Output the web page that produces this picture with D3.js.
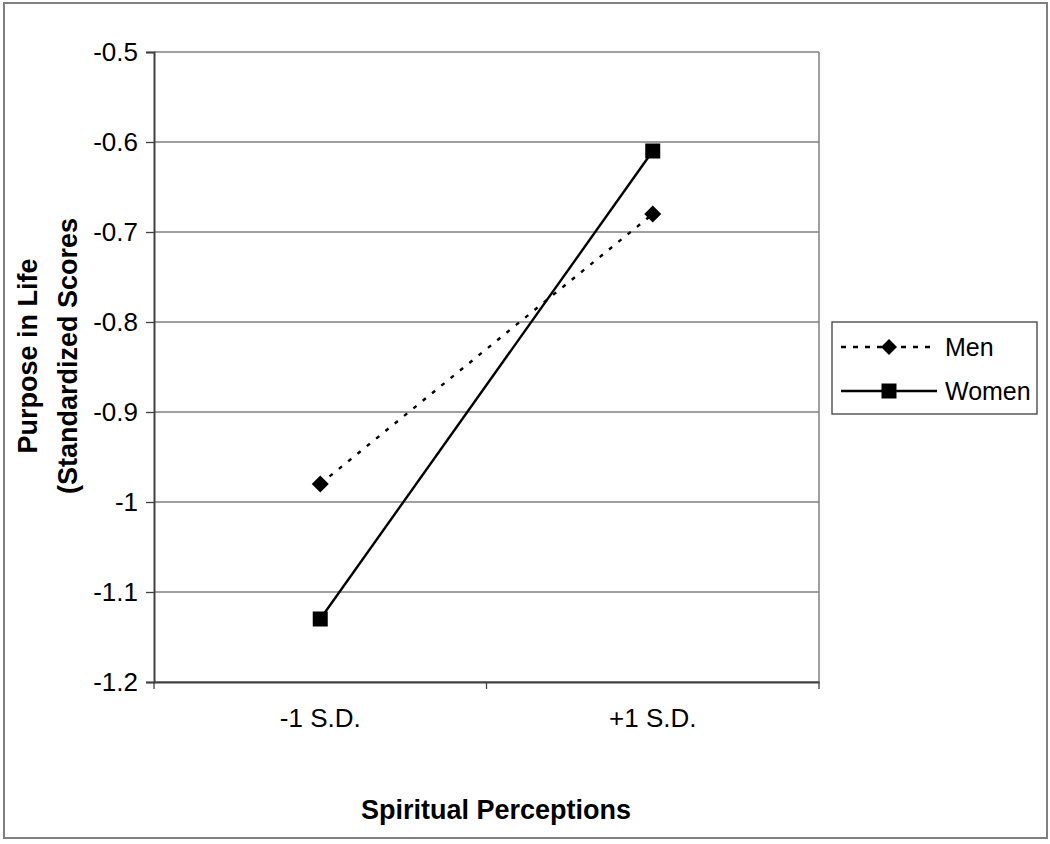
<!DOCTYPE html>
<html>
<head>
<meta charset="utf-8">
<script src="https://cdn.jsdelivr.net/npm/d3@7"></script>
<style>
  body { margin: 0; background: #fff; }
  text { font-family: Arial, "Liberation Sans", sans-serif; }
</style>
</head>
<body>
<div id="chart"></div>
<script>
// data
var categories = ["-1 S.D.", "+1 S.D."];
var seriesNames = ["Men", "Women"];
var menValues = [-0.98, -0.68];
var womenValues = [-1.13, -0.61];
var yTicks = [-1.2, -1.1, -1, -0.9, -0.8, -0.7, -0.6, -0.5];

var width = 1050, height = 844;
var plot = { left: 154, top: 52, right: 819, bottom: 682 };

var svg = d3.select("#chart").append("svg")
  .attr("width", width).attr("height", height);

// outer chart border
svg.append("rect")
  .attr("x", 4).attr("y", 3).attr("width", 1043).attr("height", 835)
  .attr("fill", "#fff").attr("stroke", "#808080").attr("stroke-width", 2);

var x = d3.scaleBand().domain(categories).range([plot.left, plot.right]);
var y = d3.scaleLinear().domain([-1.2, -0.5]).range([plot.bottom, plot.top]);

// gridlines
svg.append("g").selectAll("line")
  .data(yTicks)
  .enter().append("line")
  .attr("x1", plot.left).attr("x2", plot.right)
  .attr("y1", function (d) { return y(d); })
  .attr("y2", function (d) { return y(d); })
  .attr("stroke", "#808080").attr("stroke-width", 1.3);

// right edge of plot area
svg.append("line")
  .attr("x1", plot.right).attr("x2", plot.right)
  .attr("y1", plot.top).attr("y2", plot.bottom)
  .attr("stroke", "#808080").attr("stroke-width", 1.5);

// y axis
var yAxis = svg.append("g")
  .attr("transform", "translate(" + plot.left + ",0)")
  .call(d3.axisLeft(y).tickValues(yTicks).tickSize(8).tickPadding(8)
    .tickFormat(function (d) { return String(+d.toFixed(1)); }));
yAxis.select(".domain").attr("stroke", "#404040").attr("stroke-width", 2);
yAxis.selectAll(".tick line").attr("stroke", "#404040").attr("stroke-width", 1.3);
yAxis.selectAll("text").attr("font-size", 26).attr("fill", "#000")
  .style("font-family", "Arial, 'Liberation Sans', sans-serif");

// x axis
var xAxis = svg.append("g")
  .attr("transform", "translate(0," + plot.bottom + ")")
  .call(d3.axisBottom(x).tickSize(0).tickPadding(27));
xAxis.select(".domain").attr("stroke", "#404040").attr("stroke-width", 2);
xAxis.selectAll("text").attr("font-size", 26).attr("fill", "#000")
  .style("font-family", "Arial, 'Liberation Sans', sans-serif");

// category separator ticks
var edges = [plot.left, plot.left + x.bandwidth(), plot.right];
svg.append("g").selectAll("line")
  .data(edges)
  .enter().append("line")
  .attr("x1", function (d) { return d; }).attr("x2", function (d) { return d; })
  .attr("y1", plot.bottom).attr("y2", plot.bottom + 7)
  .attr("stroke", "#404040").attr("stroke-width", 1.3);

// axis titles
svg.append("text")
  .attr("x", 496).attr("y", 819)
  .attr("text-anchor", "middle").attr("font-size", 27).attr("font-weight", "bold")
  .text("Spiritual Perceptions");

var yTitle = svg.append("text")
  .attr("transform", "translate(0,356) rotate(-90)")
  .attr("text-anchor", "middle").attr("font-size", 27).attr("font-weight", "bold");
yTitle.append("tspan").attr("x", 0).attr("y", 37).text("Purpose in Life");
yTitle.append("tspan").attr("x", 0).attr("y", 77).text("(Standardized Scores");

var cx = function (i) { return x(categories[i]) + x.bandwidth() / 2; };
var line = d3.line()
  .x(function (d, i) { return cx(i); })
  .y(function (d) { return y(d); });

// men: dotted line with diamonds
svg.append("path").datum(menValues)
  .attr("d", line).attr("fill", "none").attr("stroke", "#000")
  .attr("stroke-width", 2.4).attr("stroke-dasharray", "4,8");
svg.append("g").selectAll("path")
  .data(menValues).enter().append("path")
  .attr("transform", function (d, i) { return "translate(" + cx(i) + "," + y(d) + ")"; })
  .attr("d", "M0,-8.5L8.5,0L0,8.5L-8.5,0Z").attr("fill", "#000");

// women: solid line with squares
svg.append("path").datum(womenValues)
  .attr("d", line).attr("fill", "none").attr("stroke", "#000").attr("stroke-width", 2.4);
svg.append("g").selectAll("rect")
  .data(womenValues).enter().append("rect")
  .attr("x", function (d, i) { return cx(i) - 7.5; })
  .attr("y", function (d) { return y(d) - 7.5; })
  .attr("width", 15).attr("height", 15).attr("fill", "#000");

// legend
var legend = svg.append("g");
legend.append("rect")
  .attr("x", 832).attr("y", 322).attr("width", 205).attr("height", 92)
  .attr("fill", "#fff").attr("stroke", "#404040").attr("stroke-width", 1.3);

var legendRows = legend.selectAll("g.row")
  .data(seriesNames).enter().append("g")
  .attr("class", "row")
  .attr("transform", function (d, i) { return "translate(0," + (347 + i * 44) + ")"; });

legendRows.append("line")
  .attr("x1", 841).attr("x2", 937).attr("y1", 0).attr("y2", 0)
  .attr("stroke", "#000").attr("stroke-width", 2.4)
  .attr("stroke-dasharray", function (d) { return d === "Men" ? "5,7" : null; });

legendRows.append("path")
  .attr("transform", "translate(889,0)")
  .attr("d", function (d) {
    return d === "Men" ? "M0,-8L8,0L0,8L-8,0Z" : "M-7.5,-7.5H7.5V7.5H-7.5Z";
  })
  .attr("fill", "#000");

legendRows.append("text")
  .attr("x", 945).attr("y", 0).attr("dy", "0.35em")
  .attr("font-size", 25).attr("fill", "#000")
  .text(function (d) { return d; });
</script>
</body>
</html>
